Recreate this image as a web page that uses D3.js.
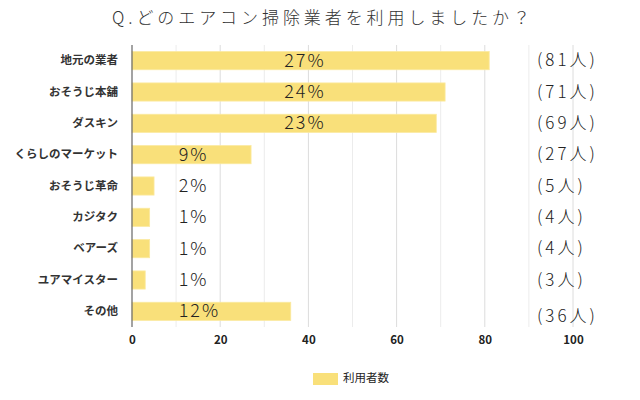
<!DOCTYPE html>
<html><head><meta charset="utf-8">
<script src="https://cdn.jsdelivr.net/npm/d3@7"></script>
<style>
body{margin:0;background:#fff;}
text{font-family:"Noto Sans CJK JP","Noto Sans",sans-serif;}
</style></head>
<body><svg id="c" width="640" height="400"></svg>
<script>
const categories = ["地元の業者","おそうじ本舗","ダスキン","くらしのマーケット","おそうじ革命","カジタク","ベアーズ","ユアマイスター","その他"];
const users = [81,71,69,27,5,4,4,3,36];
const percentLabels = ["27%","24%","23%","9%","2%","1%","1%","1%","12%"];
const countLabels = ["(81人)","(71人)","(69人)","(27人)","(5人)","(4人)","(4人)","(3人)","(36人)"];
const tickValues = [0,20,40,60,80,100];
const title = "Q.どのエアコン掃除業者を利用しましたか？";
const legendLabel = "利用者数";

(function(){
const svg = d3.select("#c");
const pL = 132, pR = 573, pT = 45, pB = 327;
const x = d3.scaleLinear().domain([0,100]).range([pL,pR]);
const y = d3.scaleBand().domain(categories).range([pT,pB]).paddingInner(0.42).paddingOuter(0.21);

// title
svg.append("text").attr("x",112).attr("y",24)
  .attr("font-size",17).attr("font-weight",300).attr("fill","#333")
  .attr("textLength",418).attr("lengthAdjust","spacing")
  .text(title);

// gridlines
svg.append("g").selectAll("line").data(d3.range(10,101,10)).join("line")
  .attr("x1",d=>x(d)).attr("x2",d=>x(d)).attr("y1",pT).attr("y2",pB)
  .attr("stroke",d=>d%20===0?"#dcdcdc":"#ececec").attr("stroke-width",1);

// bars
svg.append("g").selectAll("rect").data(categories).join("rect")
  .attr("x",x(0)).attr("y",d=>y(d))
  .attr("width",(d,i)=>x(users[i])-x(0)).attr("height",y.bandwidth())
  .attr("fill","#f9e07a").attr("stroke","#fbe9a0").attr("stroke-width",0.8);

// axis line
svg.append("line").attr("x1",x(0)).attr("x2",x(0)).attr("y1",pT).attr("y2",pB)
  .attr("stroke","#666").attr("stroke-width",1.2);

// x ticks
const xAxis = d3.axisBottom(x).tickValues(tickValues).tickSize(0).tickPadding(9);
const gx = svg.append("g").attr("transform",`translate(0,${pB})`).call(xAxis);
gx.select(".domain").remove();
gx.selectAll("text").attr("font-size",11.5).attr("font-weight","bold").attr("fill","#222")
  .attr("font-family","'Noto Sans CJK JP',sans-serif");

// category labels
const yAxis = d3.axisLeft(y).tickSize(0).tickPadding(14);
const gy = svg.append("g").attr("transform",`translate(${pL},0)`).call(yAxis);
gy.select(".domain").remove();
gy.selectAll("text").attr("font-size",11.5).attr("font-weight","bold").attr("fill","#333")
  .attr("font-family","'Noto Sans CJK JP',sans-serif");

// percent labels
svg.append("g").selectAll("text").data(categories).join("text")
  .attr("x",(d,i)=> users[i] > 50 ? x(34.5) : x(10.6))
  .attr("y",d=>y(d)+y.bandwidth()/2+1)
  .attr("dominant-baseline","middle")
  .attr("font-family","Lato,'Noto Sans CJK JP',sans-serif")
  .attr("font-size",18).attr("font-weight",300).attr("fill","#222")
  .attr("letter-spacing","2px")
  .text((d,i)=>percentLabels[i]);

// count labels
svg.append("g").selectAll("text").data(categories).join("text")
  .attr("x",537)
  .attr("y",(d,i)=>y(d)+y.bandwidth()/2+1+(i===categories.length-1?5:0))
  .attr("dominant-baseline","middle")
  .attr("font-family","Lato,'Noto Sans CJK JP',sans-serif")
  .attr("font-size",17).attr("font-weight",300).attr("fill","#222")
  .attr("letter-spacing","3px")
  .text((d,i)=>countLabels[i]);

// legend
svg.append("rect").attr("x",313).attr("y",373).attr("width",25).attr("height",12).attr("fill","#f9e07a");
svg.append("text").attr("x",343).attr("y",379).attr("dominant-baseline","middle")
  .attr("font-size",11.5).attr("fill","#222").text(legendLabel);
})();
</script></body></html>
